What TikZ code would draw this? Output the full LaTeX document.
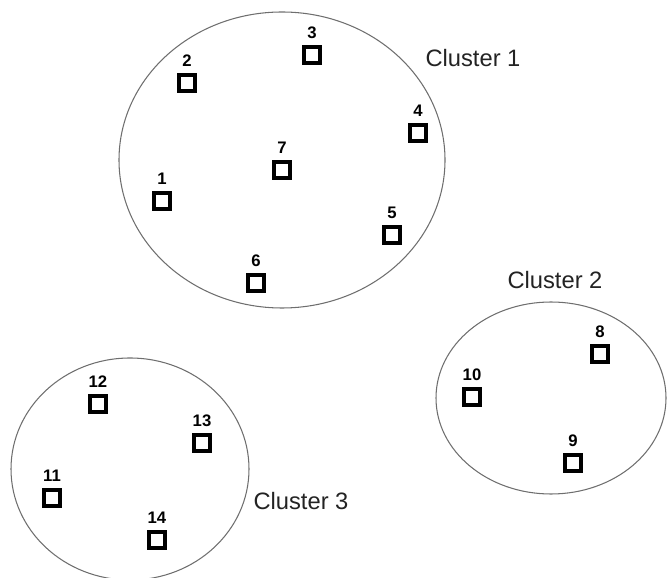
\documentclass[tikz,border=0pt]{standalone}
\usepackage{fontspec}
\setmainfont{Liberation Sans}
\usepackage{tikz}
\usetikzlibrary{
  positioning,
  shapes.geometric
}
\definecolor{rimgray}{RGB}{110,110,110}
\definecolor{textgray}{RGB}{35,35,35}

\begin{document}
\begin{tikzpicture}[
  pt/.style    ={draw,rectangle,line width=2.1pt,minimum size=0.33cm,inner sep=0pt,
                 label distance=1pt,
                 label={[font=\fontsize{9.5}{10}\selectfont\bfseries]above:#1}},
  clus/.style  ={draw=rimgray,ellipse,line width=0.6pt,inner sep=0pt},
  tag/.style   ={text=textgray,font=\fontsize{13.5}{15}\selectfont},
]
\useasboundingbox (0,0) rectangle (13.34,-11.56);

% clusters
\node[clus, minimum width=6.52cm, minimum height=5.92cm] (c1) at (5.64,-3.20) {};
\node[clus, minimum width=4.60cm, minimum height=3.84cm] (c2) at (11.02,-7.96) {};
\node[clus, minimum width=4.76cm, minimum height=4.44cm] (c3) at (2.60,-9.38) {};

\node[tag] (t1) at (9.46,-1.16)  {Cluster 1};
\node[tag] (t2) at (11.10,-5.60) {Cluster 2};
\node[tag] (t3) at (6.02,-10.02) {Cluster 3};

% points of cluster 1
\node[pt=1] (p1) at (3.24,-4.02) {};
\node[pt=2] (p2) at (3.74,-1.66) {};
\node[pt=3] (p3) at (6.24,-1.10) {};
\node[pt=4] (p4) at (8.36,-2.66) {};
\node[pt=5] (p5) at (7.84,-4.70) {};
\node[pt=6] (p6) at (5.12,-5.66) {};
\node[pt=7] (p7) at (5.64,-3.40) {};

% points of cluster 2
\node[pt=8]  (p8)  at (12.00,-7.08) {};
\node[pt=9]  (p9)  at (11.46,-9.26) {};
\node[pt=10] (p10) at (9.44,-7.94)  {};

% points of cluster 3
\node[pt=11] (p11) at (1.04,-9.96)  {};
\node[pt=12] (p12) at (1.96,-8.08)  {};
\node[pt=13] (p13) at (4.04,-8.86)  {};
\node[pt=14] (p14) at (3.14,-10.80) {};
\end{tikzpicture}
\end{document}
